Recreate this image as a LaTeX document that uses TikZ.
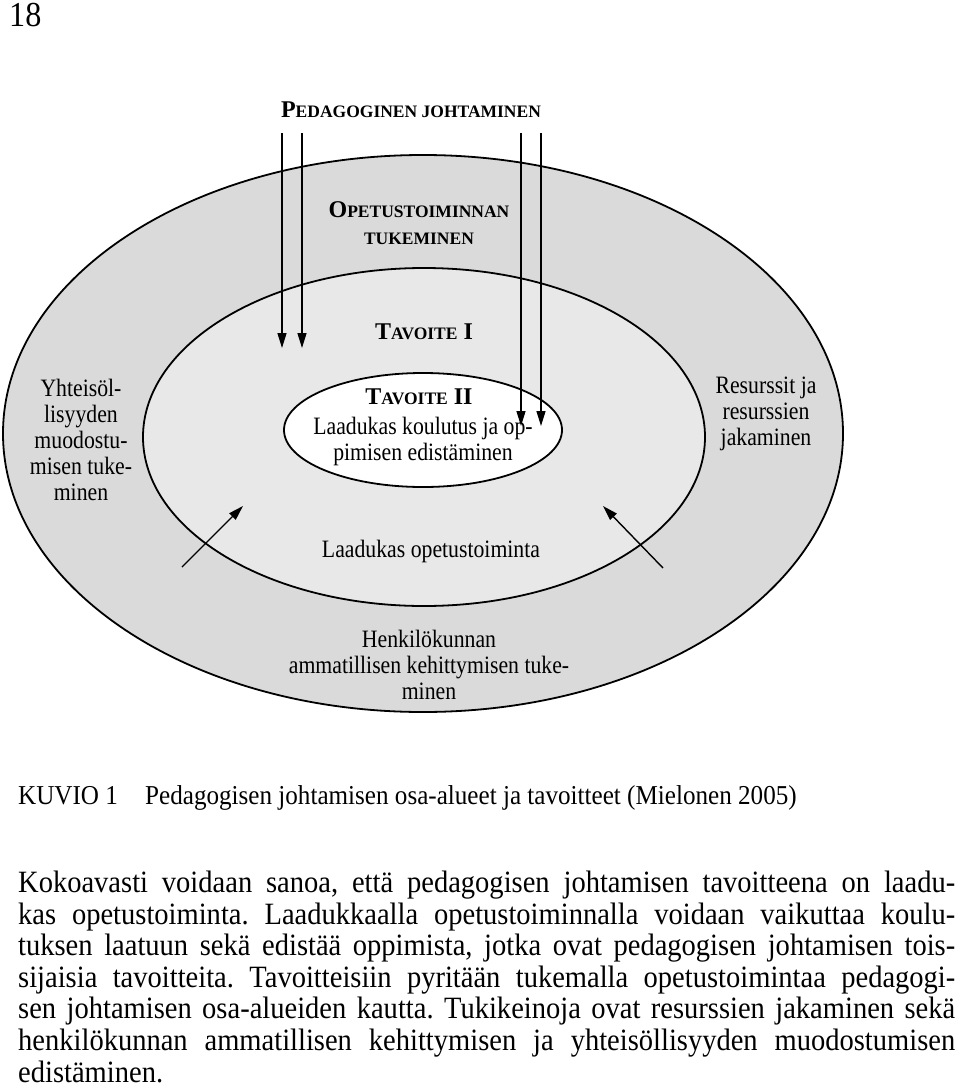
\documentclass[tikz,border=0pt]{standalone}
\usepackage{fontspec}
\setmainfont{Liberation Serif}
\newfontfamily\dfont[FakeStretch=0.87]{Liberation Serif}
\newfontfamily\bodyfont[FakeStretch=0.92]{Liberation Serif}
\usetikzlibrary{arrows.meta,shapes.geometric}
\definecolor{ringA}{HTML}{DADADA}
\definecolor{ringB}{HTML}{E8E8E8}
\newcommand{\smc}[1]{{\fontsize{17.5}{17.5}\selectfont #1}}
\frenchspacing
\begin{document}
\begin{tikzpicture}[x=1pt,y=-1pt,
  ring/.style={ellipse, draw, line width=1.8pt, inner sep=0pt},
  lbl/.style={align=center, font=\dfont\fontsize{25}{26}\selectfont, inner sep=0pt, anchor=base},
  hd/.style={align=center, font=\fontsize{24}{27}\selectfont\bfseries, inner sep=0pt, anchor=base},
  arr/.style={line width=1.4pt, -{Triangle[length=15pt,width=9pt]}},
  body/.style={font=\bodyfont\fontsize{31}{31}\selectfont, inner sep=0pt, anchor=base west}]
\useasboundingbox (0,0) rectangle (960,1092);
\fill[white] (0,0) rectangle (960,1092);
% page number
\node[body, font=\bodyfont\fontsize{35}{35}\selectfont] (pg) at (9,26) {18};
% title
\node[hd] (title) at (411,117) {P\smc{EDAGOGINEN JOHTAMINEN}};
% ellipses
\node[ring, fill=ringA, minimum width=840pt, minimum height=557pt] (outer) at (423,433.5) {};
\node[ring, fill=ringB, minimum width=562pt, minimum height=338pt] (middle) at (424,437) {};
\node[ring, fill=white, minimum width=278pt, minimum height=114pt] (inner) at (423,430) {};
% ring labels (anchor = baseline of the last line)
\node[hd] (opet) at (419,244) {O\smc{PETUSTOIMINNAN}\\\smc{TUKEMINEN}};
\node[hd] (tav1) at (424,339) {T\smc{AVOITE} I};
\node[hd] (tav2) at (419,404) {T\smc{AVOITE} II};
\node[lbl] (laad) at (423,460) {Laadukas koulutus ja op-\\pimisen edistäminen};
\node[lbl] (yht) at (81,500) {Yhteisöl-\\lisyyden\\muodostu-\\misen tuke-\\minen};
\node[lbl] (res) at (766,445) {Resurssit ja\\resurssien\\jakaminen};
\node[lbl] (lop) at (431,557) {Laadukas opetustoiminta};
\node[lbl] (henk) at (429,699) {Henkilökunnan\\ammatillisen kehittymisen tuke-\\minen};
% arrows from the top
\coordinate (a1s) at (282,133); \coordinate (a1e) at (282,348);
\coordinate (a2s) at (302,133); \coordinate (a2e) at (302,348);
\coordinate (a3s) at (521,133); \coordinate (a3e) at (521,426);
\coordinate (a4s) at (541,133); \coordinate (a4e) at (541,426);
\draw[arr] (a1s) -- (a1e);
\draw[arr] (a2s) -- (a2e);
\draw[arr] (a3s) -- (a3e);
\draw[arr] (a4s) -- (a4e);
% arrows from below
\coordinate (b1s) at (182,567); \coordinate (b1e) at (243,506);
\coordinate (b2s) at (663,568); \coordinate (b2e) at (603,506);
\draw[arr] (b1s) -- (b1e);
\draw[arr] (b2s) -- (b2e);
% caption
\node[body, font=\bodyfont\fontsize{27.3}{27.3}\selectfont] (kuvio) at (18,804) {KUVIO 1};
\node[body, font=\bodyfont\fontsize{27.3}{27.3}\selectfont] (capt) at (145,804) {Pedagogisen johtamisen osa-alueet ja tavoitteet (Mielonen 2005)};
% body text
\node[body] (l1) at (18,892) {\makebox[937pt][s]{Kokoavasti voidaan sanoa, että pedagogisen johtamisen tavoitteena on laadu-}};
\node[body] (l2) at (18,924) {\makebox[937pt][s]{kas opetustoiminta. Laadukkaalla opetustoiminnalla voidaan vaikuttaa koulu-}};
\node[body] (l3) at (18,955) {\makebox[937pt][s]{tuksen laatuun sekä edistää oppimista, jotka ovat pedagogisen johtamisen tois-}};
\node[body] (l4) at (18,987) {\makebox[937pt][s]{sijaisia tavoitteita. Tavoitteisiin pyritään tukemalla opetustoimintaa pedagogi-}};
\node[body] (l5) at (18,1018) {\makebox[937pt][s]{sen johtamisen osa-alueiden kautta. Tukikeinoja ovat resurssien jakaminen sekä}};
\node[body] (l6) at (18,1050) {\makebox[937pt][s]{henkilökunnan ammatillisen kehittymisen ja yhteisöllisyyden muodostumisen}};
\node[body] (l7) at (18,1082) {edistäminen.};
\end{tikzpicture}
\end{document}
